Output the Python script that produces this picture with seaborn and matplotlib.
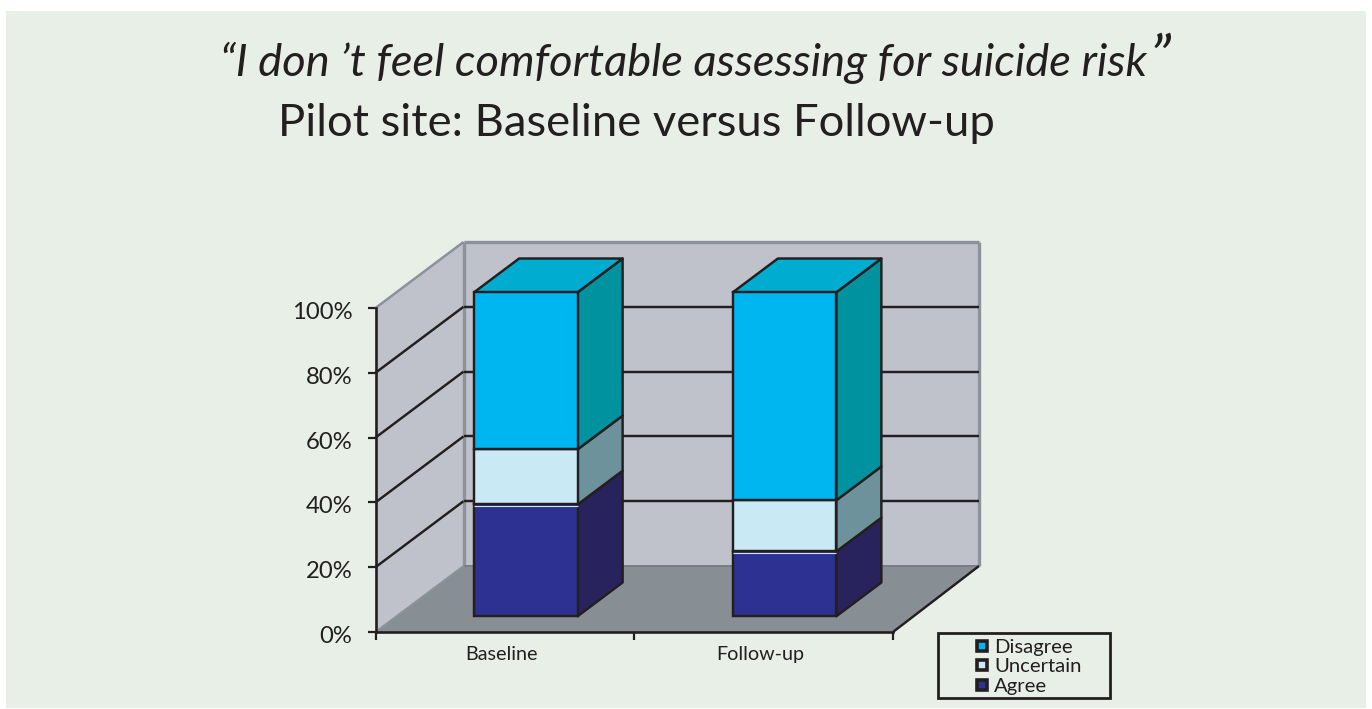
import matplotlib
matplotlib.use("Agg")
import matplotlib.pyplot as plt
from matplotlib.legend_handler import HandlerPatch
from matplotlib.patches import Patch, Polygon, Rectangle
from matplotlib.transforms import IdentityTransform, ScaledTranslation
import numpy as np
import seaborn as sns

# Survey shares (percent), one entry per time point
categories = ["Baseline", "Follow-up"]
agree = [34.5, 20.0]
uncertain = [17.0, 15.8]
disagree = [48.5, 64.2]
series_names = ["Agree", "Uncertain", "Disagree"]
y_ticks = [0, 20, 40, 60, 80, 100]

INK = "#231f20"
PANEL = "#e8efe7"
WALL = "#bfc2ca"
WALL_EDGE = "#8b9299"
FLOOR = "#878e94"
FRONT = {"Agree": "#2d3191", "Uncertain": "#c9e9f5", "Disagree": "#00b6f0"}
SIDE = {"Agree": "#28235c", "Uncertain": "#6e929b", "Disagree": "#00929f"}
TOP = "#00acd0"
LINE = 1.75

sns.set_theme(style="white")
plt.rcParams["font.family"] = ["Lato", "DejaVu Sans"]

fig = plt.figure(figsize=(13.72, 7.09), dpi=100, facecolor="white")
W, H = fig.get_size_inches() * fig.dpi

# Background panel, placed in figure pixels
fig.add_artist(Rectangle((6, 1), 1360, 697, transform=IdentityTransform(),
                         facecolor=PANEL, edgecolor="none", zorder=-5))

# Front plane of the chart box
left, right, bottom, top = 375.5, 893, 709 - 632, 709 - 308
ax = fig.add_axes([left / W, bottom / H, (right - left) / W, (top - bottom) / H])
ax.patch.set_alpha(0)

XMIN, XMAX = -0.5, 1.5
px_x = (XMAX - XMIN) / (right - left)
px_y = 100 / (top - bottom)

# Oblique projection: one unit of depth moves a point up and to the right
DEPTH_X = 88 * px_x
DEPTH_Y = 66 * px_y
BACK_RIGHT = XMAX - 2 * px_x


def project(x, y, depth=0.0):
    return x + depth * DEPTH_X, y + depth * DEPTH_Y


def face(points, **kws):
    verts = [project(*p) for p in points]
    ax.add_patch(Polygon(verts, closed=True, clip_on=False, **kws))


def edge(p, q, color=INK, lw=LINE, zorder=2):
    (x0, y0), (x1, y1) = project(*p), project(*q)
    ax.plot([x0, x1], [y0, y1], color=color, lw=lw, clip_on=False,
            solid_capstyle="butt", zorder=zorder)


# Walls and floor
face([(XMIN, 0, 0), (XMIN, 100, 0), (XMIN, 100, 1), (XMIN, 0, 1)],
     facecolor=WALL, edgecolor="none", zorder=0.5)
face([(XMIN, 0, 1), (XMIN, 100, 1), (BACK_RIGHT, 100, 1), (BACK_RIGHT, 0, 1)],
     facecolor=WALL, edgecolor="none", zorder=0.5)
face([(XMIN, 0, 0), (XMAX, 0, 0), (BACK_RIGHT, 0, 1), (XMIN, 0, 1)],
     facecolor=FLOOR, edgecolor="none", zorder=0.6)

edge((XMIN, 100, 0), (XMIN, 100, 1), WALL_EDGE, 1.8, 1)
edge((XMIN, 100, 1), (BACK_RIGHT, 100, 1), WALL_EDGE, 2.4, 1)
edge((XMIN, 0, 1), (XMIN, 100, 1), WALL_EDGE, 2.4, 1)
edge((BACK_RIGHT, 0, 1), (BACK_RIGHT, 100, 1), WALL_EDGE, 2.4, 1)
edge((XMIN, 0, 1), (BACK_RIGHT, 0, 1), "#767d84", 1.4, 1)
edge((XMIN, 0, 0), (XMIN, 0, 1), WALL_EDGE, 1.4, 1)
edge((XMAX, 0, 0), (BACK_RIGHT, 0, 1), INK, LINE, 1)

# Gridlines run along the side wall and then across the back wall
for tick in y_ticks[1:-1]:
    edge((XMIN, tick, 0), (XMIN, tick, 1), INK, LINE, 1.2)
    edge((XMIN, tick, 1), (BACK_RIGHT, tick, 1), INK, LINE, 1.2)

# Stacked columns sit inside the box, between these two depths
NEAR, FAR = 21 / 88, 66 / 88
BAR_WIDTH = 0.4

bases = np.zeros(len(categories))
for name, values in zip(series_names, (agree, uncertain, disagree)):
    before = len(ax.patches)
    sns.barplot(x=categories, y=values, color=FRONT[name], saturation=1,
                width=BAR_WIDTH, edgecolor=INK, linewidth=LINE, zorder=3, ax=ax)
    shift_x, shift_y = project(0, 0, NEAR)
    for patch, base, value, centre in zip(ax.patches[before:], bases, values, range(len(categories))):
        patch.set_x(patch.get_x() + shift_x)
        patch.set_y(base + shift_y)
        patch.set_clip_on(False)
        x1 = centre + BAR_WIDTH / 2
        face([(x1, base, NEAR), (x1, base + value, NEAR), (x1, base + value, FAR), (x1, base, FAR)],
             facecolor=SIDE[name], edgecolor=INK, linewidth=LINE, joinstyle="round", zorder=2.8)
    bases = bases + np.asarray(values)

for centre, total in zip(range(len(categories)), bases):
    x0, x1 = centre - BAR_WIDTH / 2, centre + BAR_WIDTH / 2
    face([(x0, total, NEAR), (x1, total, NEAR), (x1, total, FAR), (x0, total, FAR)],
         facecolor=TOP, edgecolor=INK, linewidth=LINE, joinstyle="round", zorder=2.9)

# Pale seam along the top of the lowest segment
for centre, value in zip(range(len(categories)), agree):
    edge((centre - BAR_WIDTH / 2, value - 0.42, NEAR), (centre + BAR_WIDTH / 2, value - 0.42, NEAR),
         FRONT["Uncertain"], 0.8, 3.5)

# Axes, ticks and labels
ax.set_xlim(XMIN, XMAX)
ax.set_ylim(0, 100)
ax.set_xlabel("")
ax.set_ylabel("")
sns.despine(ax=ax)
for side in ("left", "bottom"):
    ax.spines[side].set_color(INK)
    ax.spines[side].set_linewidth(1.9)
    ax.spines[side].set_zorder(4)

ax.set_yticks(y_ticks)
ax.set_yticklabels([f"{t}%" for t in y_ticks], fontsize=17.2, color=INK)
ax.tick_params(axis="y", direction="out", length=6, width=1.6, color=INK, pad=10.5, left=True)
ax.set_xticks(range(len(categories)))
ax.set_xticklabels(categories, fontsize=14.2, color=INK)
ax.set_xticks([XMIN, 0.5, XMAX], minor=True)
ax.tick_params(axis="x", which="major", length=0, pad=10.2)
ax.tick_params(axis="x", which="minor", direction="out", length=6, width=1.6, color=INK, bottom=True)

# Fine placement of the tick labels
for label in ax.get_yticklabels():
    label.set_transform(label.get_transform() + ScaledTranslation(0, -2.5 / 100, fig.dpi_scale_trans))
for label in ax.get_xticklabels():
    label.set_transform(label.get_transform() + ScaledTranslation(-3 / 100, 0, fig.dpi_scale_trans))


def small_square(legend, orig_handle, xdescent, ydescent, width, height, fontsize):
    side = 0.5 * fontsize
    return Rectangle((width - side, (height - side) / 2 - ydescent), side, side)


# Legend lists the top of the stack first
handles = [Patch(facecolor=FRONT[n], edgecolor=INK, linewidth=2.6) for n in reversed(series_names)]
ax.legend(handles, list(reversed(series_names)), loc="lower left",
          bbox_to_anchor=(938 / W, (709 - 698) / H), bbox_transform=fig.transFigure,
          frameon=False, fontsize=14.6, borderaxespad=0, borderpad=0.15, labelspacing=0.12,
          handlelength=2.25, handletextpad=0.36, labelcolor=INK,
          handler_map={Patch: HandlerPatch(patch_func=small_square)})
fig.add_artist(Rectangle((937.5, 709 - 698), 172, 65, transform=IdentityTransform(),
                         facecolor="none", edgecolor=INK, linewidth=2))

# Two-line heading with a raised closing quotation mark
fig.text(220 / W, (709 - 76) / H, "\u201cI don \u2019t feel comfortable assessing for suicide risk",
         fontsize=32.6, style="italic", color=INK, ha="left", va="baseline")
fig.text(1149 / W, (709 - 78) / H, "\u201d", fontsize=44, style="italic", color=INK, ha="left", va="baseline")
fig.text(278 / W, (709 - 136) / H, "Pilot site: Baseline versus Follow-up",
         fontsize=32.7, color=INK, ha="left", va="baseline")

fig.savefig("out.png", dpi=100, facecolor="white")
